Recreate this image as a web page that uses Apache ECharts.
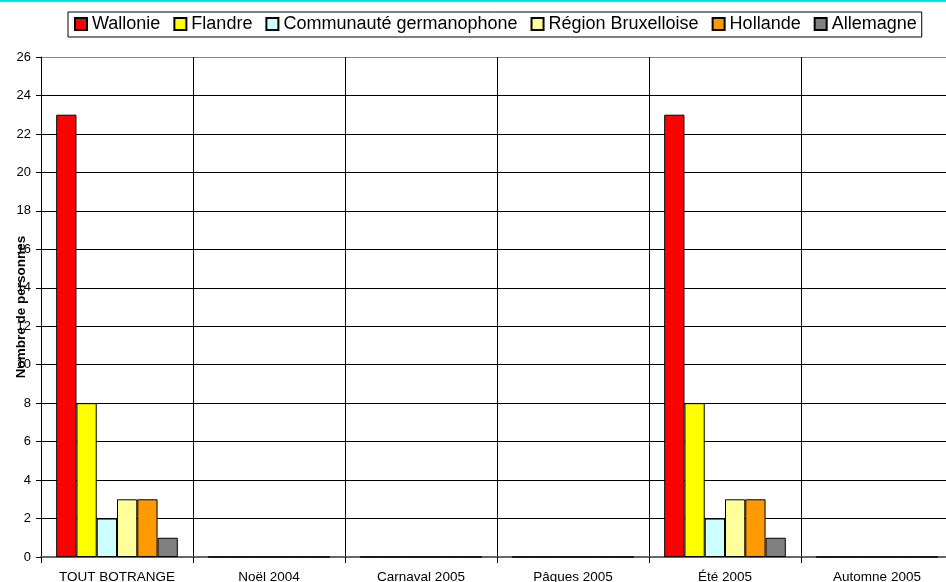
<!DOCTYPE html>
<html>
<head>
<meta charset="utf-8">
<script src="https://cdn.jsdelivr.net/npm/echarts@6/dist/echarts.min.js"></script>
<style>
  html, body { margin: 0; padding: 0; background: #fff; }
  #chart { width: 946px; height: 582px; }
</style>
</head>
<body>
<div id="chart"></div>
<script>
const categories = ['TOUT BOTRANGE', 'Noël 2004', 'Carnaval 2005', 'Pâques 2005', 'Été 2005', 'Automne 2005'];
const seriesNames = ['Wallonie', 'Flandre', 'Communauté germanophone', 'Région Bruxelloise', 'Hollande', 'Allemagne'];
const wallonie = [23, 0, 0, 0, 23, 0];
const flandre = [8, 0, 0, 0, 8, 0];
const germanophone = [2, 0, 0, 0, 2, 0];
const bruxelles = [3, 0, 0, 0, 3, 0];
const hollande = [3, 0, 0, 0, 3, 0];
const allemagne = [1, 0, 0, 0, 1, 0];
const colors = ['#ff0000', '#ffff00', '#ccffff', '#ffff99', '#ff9900', '#808080'];

const allData = [wallonie, flandre, germanophone, bruxelles, hollande, allemagne];
const font = '"Liberation Sans", Arial, sans-serif';

const chart = echarts.init(document.getElementById('chart'));

// split lines: black, the top one (26) gray
const ySplitColors = [];
for (let i = 0; i <= 13; i++) ySplitColors.push(i === 13 ? '#888888' : '#000000');

chart.setOption({
  animation: false,
  textStyle: { fontFamily: font },
  graphic: [{
    type: 'rect',
    shape: { x: 0, y: 0, width: 946, height: 2 },
    style: { fill: '#00e5e5' }
  }],
  legend: {
    data: seriesNames,
    left: 68,
    top: 12,
    padding: [3, 5, 4, 6],
    itemGap: 13,
    itemWidth: 12,
    itemHeight: 12,
    icon: 'rect',
    borderColor: '#000',
    borderWidth: 1,
    textStyle: { fontSize: 18, color: '#000', fontFamily: font }
  },
  grid: { left: 41, top: 57, width: 912, height: 500, containLabel: false, outerBoundsMode: 'none' },
  xAxis: {
    type: 'category',
    data: categories,
    axisLine: { lineStyle: { color: '#666', width: 2 } },
    axisTick: { show: true, length: 6, lineStyle: { color: '#000' } },
    axisLabel: { fontSize: 13.5, color: '#000', margin: 13, fontFamily: font },
    splitLine: { show: true, lineStyle: { color: '#000', width: 1 } }
  },
  yAxis: {
    type: 'value',
    min: 0,
    max: 26,
    interval: 2,
    name: 'Nombre de personnes',
    nameLocation: 'middle',
    nameGap: 13,
    nameMoveOverlap: false,
    nameTextStyle: { fontSize: 13.5, fontWeight: 'bold', color: '#000', fontFamily: font },
    axisLine: { show: true, lineStyle: { color: '#000' } },
    axisTick: { show: true, length: 5, lineStyle: { color: '#000' } },
    axisLabel: { fontSize: 13, color: '#000', margin: 10, fontFamily: font },
    splitLine: { show: true, lineStyle: { color: ySplitColors, width: 1 } }
  },
  series: seriesNames.map((name, i) => ({
    name: name,
    type: 'bar',
    data: allData[i],
    barGap: '0%',
    barCategoryGap: '20%',
    itemStyle: { color: colors[i], borderColor: '#000', borderWidth: 1 }
  }))
});
</script>
</body>
</html>
